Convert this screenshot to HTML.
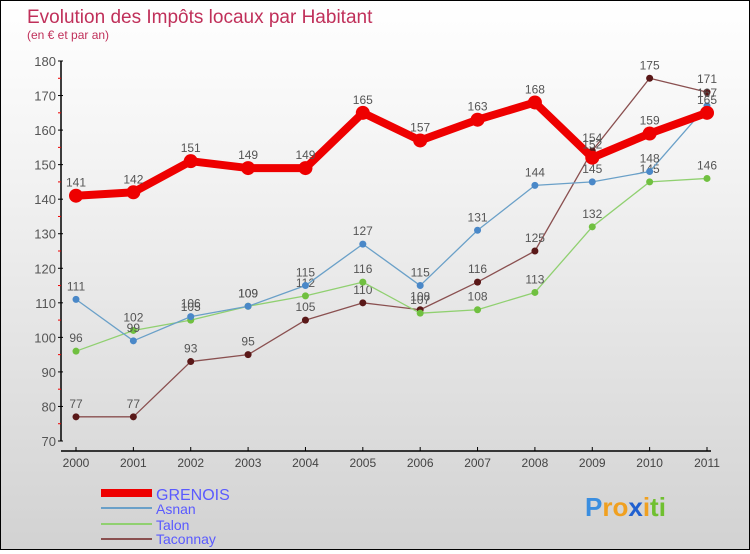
<!DOCTYPE html>
<html><head><meta charset="utf-8"><style>
html,body{margin:0;padding:0}
body{width:750px;height:550px;overflow:hidden}
#c{position:relative;width:748px;height:548px;border:1px solid #000;background:linear-gradient(#ffffff,#f3f3f3 30%,#d2d2d2);font-family:"Liberation Sans",sans-serif}
svg text{font-family:"Liberation Sans",sans-serif}
</style></head><body>
<div id="c">
<svg id="s" width="748" height="548" xmlns="http://www.w3.org/2000/svg">
<text x="26" y="22" font-size="19" fill="#c0305a">Evolution des Impôts locaux par Habitant</text>
<text x="26" y="38" font-size="12" fill="#c0305a">(en € et par an)</text>
<g id="axes"></g><g id="series"></g>
<g>
<rect x="100" y="488" width="51" height="8" fill="#e00"/>
<text x="155" y="499" font-size="16" fill="#5a5aff">GRENOIS</text>
<line x1="100" y1="507" x2="151" y2="507" stroke="#6aa0c8" stroke-width="2"/>
<text x="155" y="513" font-size="14" fill="#5a5aff">Asnan</text>
<line x1="100" y1="523" x2="151" y2="523" stroke="#90d070" stroke-width="2"/>
<text x="155" y="529" font-size="14" fill="#5a5aff">Talon</text>
<line x1="100" y1="538" x2="151" y2="538" stroke="#8a5050" stroke-width="2"/>
<text x="155" y="543" font-size="14" fill="#5a5aff">Taconnay</text>
</g>
<text x="584" y="515" font-size="26" font-weight="bold"><tspan fill="#3a8ee0">P</tspan><tspan fill="#f0a020">ro</tspan><tspan fill="#2060d0">x</tspan><tspan fill="#f0a020">i</tspan><tspan fill="#70c030">ti</tspan></text>
</svg></div>
<script>
const years=[2000,2001,2002,2003,2004,2005,2006,2007,2008,2009,2010,2011];
const grenois=[141,142,151,149,149,165,157,163,168,152,159,165];
const asnan=[111,99,106,109,115,127,115,131,144,145,148,167];
const talon=[96,102,105,109,112,116,107,108,113,132,145,146];
const taconnay=[77,77,93,95,105,110,108,116,125,154,175,171];
const yTicks=[70,80,90,100,110,120,130,140,150,160,170,180];
const NS="http://www.w3.org/2000/svg";
const x=i=>75+i*(706-75)/(years.length-1);
const y=v=>440-(v-70)*(380/110);
function mk(t,a,p){const e=document.createElementNS(NS,t);for(const k in a)e.setAttribute(k,a[k]);p.appendChild(e);return e;}
const ax=document.getElementById('axes'),sg=document.getElementById('series');
const ya=mk('line',{x1:60,y1:60,x2:60,y2:440,stroke:'#000','stroke-width':1.5},ax);


const xa=mk('line',{x1:60,y1:450,x2:710,y2:450,stroke:'#000','stroke-width':1.5},ax);


yTicks.forEach((v,i)=>{
 mk('line',{x1:57,y1:y(v),x2:62,y2:y(v),stroke:'#000'},ax);
 if(i<yTicks.length-1)mk('line',{x1:57,y1:y(v+5),x2:60,y2:y(v+5),stroke:'#e00'},ax);
 const t=mk('text',{x:55,y:y(v)+5,'text-anchor':'end','font-size':13,fill:'#555'},ax);
 t.textContent=v;
 
 
});
years.forEach((yr,i)=>{
 mk('line',{x1:x(i),y1:446,x2:x(i),y2:450,stroke:'#000'},ax);
 const t=mk('text',{x:x(i),y:466,'text-anchor':'middle','font-size':12,fill:'#444'},ax);
 t.textContent=yr;
 
 
});
function series(name,d,col,w,r,dot){
 const g=mk('g',{},sg);
 
 
 const p=mk('polyline',{points:d.map((v,i)=>x(i)+','+y(v)).join(' '),fill:'none',stroke:col,'stroke-width':w,'stroke-linejoin':'round'},g);
 
 
 d.forEach((v,i)=>{
  const c=mk('circle',{cx:x(i),cy:y(v),r:r,fill:dot},g);
  
  
  const t=mk('text',{x:x(i),y:y(v)-9,'text-anchor':'middle','font-size':12,fill:'#555'},g);
  t.textContent=v;
  
  
 });
}
series('taconnay',taconnay,'#8a5050',1.3,3.5,'#5a1818');
series('talon',talon,'#90d070',1.3,3.5,'#70c040');
series('asnan',asnan,'#6aa0c8',1.3,3.5,'#4a88c8');
series('grenois',grenois,'#e00',8,7,'#e00');
</script>
</body></html>
